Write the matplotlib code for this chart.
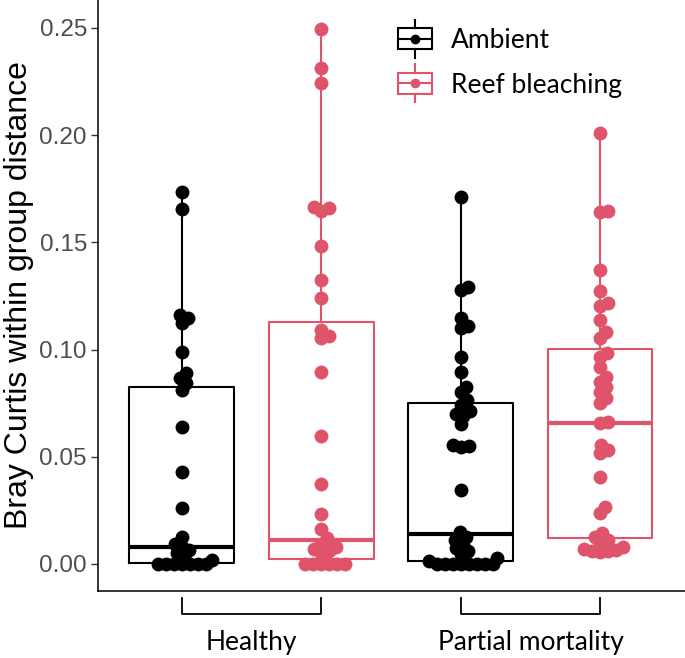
import numpy as np
import matplotlib
matplotlib.use("Agg")
import matplotlib.pyplot as plt
from matplotlib.legend_handler import HandlerBase
from matplotlib.lines import Line2D
from matplotlib.patches import Rectangle
from matplotlib.transforms import blended_transform_factory

sites = ["Healthy", "Partial mortality"]
conditions = ["Ambient", "Reef bleaching"]
colors = ["#000000", "#DF536B"]

# Bray Curtis within-group distances
healthy_ambient = [0.1735, 0.1656, 0.1160, 0.1147, 0.1124, 0.0989, 0.0890, 0.0868,
                   0.0844, 0.0812, 0.0639, 0.0429, 0.0261, 0.0126, 0.0095, 0.0080,
                   0.0065, 0.0050, 0.0035, 0.0020, 0.0, 0.0, 0.0, 0.0, 0.0, 0.0, 0.0]
healthy_bleaching = [0.2495, 0.2313, 0.2243, 0.1666, 0.1660, 0.1646, 0.1483, 0.1325,
                     0.1242, 0.1091, 0.1063, 0.1052, 0.0896, 0.0597, 0.0373, 0.0233,
                     0.0163, 0.0121, 0.0095, 0.0080, 0.0070, 0.0060, 0.0050,
                     0.0, 0.0, 0.0, 0.0, 0.0, 0.0]
partial_ambient = [0.1712, 0.1292, 0.1278, 0.1147, 0.1110, 0.1100, 0.0966, 0.0896,
                   0.0826, 0.0800, 0.0765, 0.0740, 0.0712, 0.0700, 0.0690, 0.0655,
                   0.0555, 0.0548, 0.0545, 0.0345, 0.0149, 0.0125, 0.0112, 0.0090,
                   0.0075, 0.0060, 0.0045, 0.0030, 0.0015,
                   0.0, 0.0, 0.0, 0.0, 0.0, 0.0, 0.0, 0.0]
partial_bleaching = [0.2010, 0.1645, 0.1640, 0.1369, 0.1275, 0.1215, 0.1205, 0.1140,
                     0.1082, 0.1055, 0.0985, 0.0966, 0.0919, 0.0872, 0.0850, 0.0826,
                     0.0800, 0.0775, 0.0751, 0.0662, 0.0658, 0.0555, 0.0532, 0.0518,
                     0.0406, 0.0266, 0.0236, 0.0145, 0.0126, 0.0112, 0.0098, 0.0080,
                     0.0070, 0.0065, 0.0062, 0.0060, 0.0058]

# box statistics (order: H-amb, H-bleach, PM-amb, PM-bleach)
box_q1 = [0.0003, 0.0023, 0.0015, 0.0121]
box_median = [0.0080, 0.0112, 0.0140, 0.0658]
box_q3 = [0.0826, 0.1129, 0.0753, 0.1003]

series = [healthy_ambient, healthy_bleaching, partial_ambient, partial_bleaching]
series_site = [0, 0, 1, 1]
series_cond = [0, 1, 0, 1]


def swarm(ys, d):
    # simple beeswarm: place points (sorted ascending) as close to centre as possible
    xs = np.zeros(len(ys))
    placed = []
    for i in np.argsort(ys, kind="stable"):
        y = ys[i]
        cands = [0.0]
        for px, py in placed:
            dy = abs(y - py)
            if dy < d:
                dx = np.sqrt(d * d - dy * dy)
                cands += [px + dx, px - dx]
        cands.sort(key=abs)
        for c in cands:
            if all((c - px) ** 2 + (y - py) ** 2 >= d * d - 1e-6 for px, py in placed):
                xs[i] = c
                break
        placed.append((xs[i], y))
    return xs


class BoxGlyph(HandlerBase):
    def create_artists(self, legend, orig_handle, xdescent, ydescent, width,
                       height, fontsize, trans):
        c = orig_handle.get_color()
        cx = width / 2 - xdescent
        cy = height / 2 - ydescent
        bh = 0.40 * fontsize
        wh = 0.72 * fontsize
        box = Rectangle((-xdescent, cy - bh), width, 2 * bh, fill=False,
                        edgecolor=c, lw=1.5, transform=trans)
        med = Line2D([-xdescent, width - xdescent], [cy, cy], color=c, lw=1.5,
                     transform=trans)
        wt = Line2D([cx, cx], [cy + bh, cy + wh], color=c, lw=1.5, transform=trans)
        wb = Line2D([cx, cx], [cy - bh, cy - wh], color=c, lw=1.5, transform=trans)
        dot = Line2D([cx], [cy], marker="o", ms=6, color=c, lw=0, transform=trans)
        return [box, med, wt, wb, dot]


fig = plt.figure(figsize=(6.85, 6.58), dpi=100)
ax = fig.add_axes([98 / 685, 67 / 658, 587 / 685, 591 / 658])
ax.set_xlim(0.45, 2.554)
ax.set_ylim(-0.0126, 0.263)

dodge = 0.25
positions = [s + 1 + (dodge if c else -dodge) for s, c in zip(series_site, series_cond)]

for k, vals in enumerate(series):
    col = colors[series_cond[k]]
    stats = [dict(med=box_median[k], q1=box_q1[k], q3=box_q3[k],
                  whislo=min(vals), whishi=max(vals), fliers=[])]
    ax.bxp(stats, positions=[positions[k]], widths=0.375, showfliers=False,
           showcaps=False, manage_ticks=False,
           boxprops=dict(color=col, lw=1.5),
           whiskerprops=dict(color=col, lw=1.5),
           medianprops=dict(color=col, lw=3.0, solid_capstyle="butt"))

# beeswarm in pixel space
px_per_x = ax.transData.transform((1, 0))[0] - ax.transData.transform((0, 0))[0]
for k, vals in enumerate(series):
    col = colors[series_cond[k]]
    v = np.asarray(vals)
    ypx = ax.transData.transform(np.column_stack([np.zeros_like(v), v]))[:, 1]
    offs = swarm(ypx, 8.0) / px_per_x
    ax.scatter(positions[k] + offs, v, s=100, color=col, linewidths=0, zorder=3)

# brackets under the axis
btrans = blended_transform_factory(ax.transData, ax.transAxes)
for i in range(len(sites)):
    x0, x1 = positions[2 * i], positions[2 * i + 1]
    ax.plot([x0, x0, x1, x1], [-0.012, -0.039, -0.039, -0.012], color="black",
            lw=1.3, transform=btrans, clip_on=False)

ax.set_xticks([1, 2])
ax.set_xticklabels(sites, family="Lato", fontsize=19, color="black")
ax.tick_params(axis="x", length=0, pad=28)
ax.set_yticks([0, 0.05, 0.10, 0.15, 0.20, 0.25])
ax.set_yticklabels(["0.00", "0.05", "0.10", "0.15", "0.20", "0.25"],
                   family="Liberation Sans", fontsize=17.5, color="#4D4D4D")
ax.tick_params(axis="y", length=5, width=1, color="#333333", pad=3)
ax.set_ylabel("Bray Curtis within group distance", family="Liberation Sans",
              fontsize=23, labelpad=4)

for side in ["top", "right"]:
    ax.spines[side].set_visible(False)
for side in ["left", "bottom"]:
    ax.spines[side].set_linewidth(1.1)
    ax.spines[side].set_color("black")

handles = [Line2D([], [], color=c) for c in colors]
ax.legend(handles, conditions, handler_map={Line2D: BoxGlyph()},
          loc="upper left", bbox_to_anchor=(0.511, 0.953), frameon=False,
          prop=dict(family="Lato", size=19), handlelength=1.3,
          handletextpad=0.7, labelspacing=0.75, borderaxespad=0, borderpad=0)

fig.savefig("out.png", dpi=100)
